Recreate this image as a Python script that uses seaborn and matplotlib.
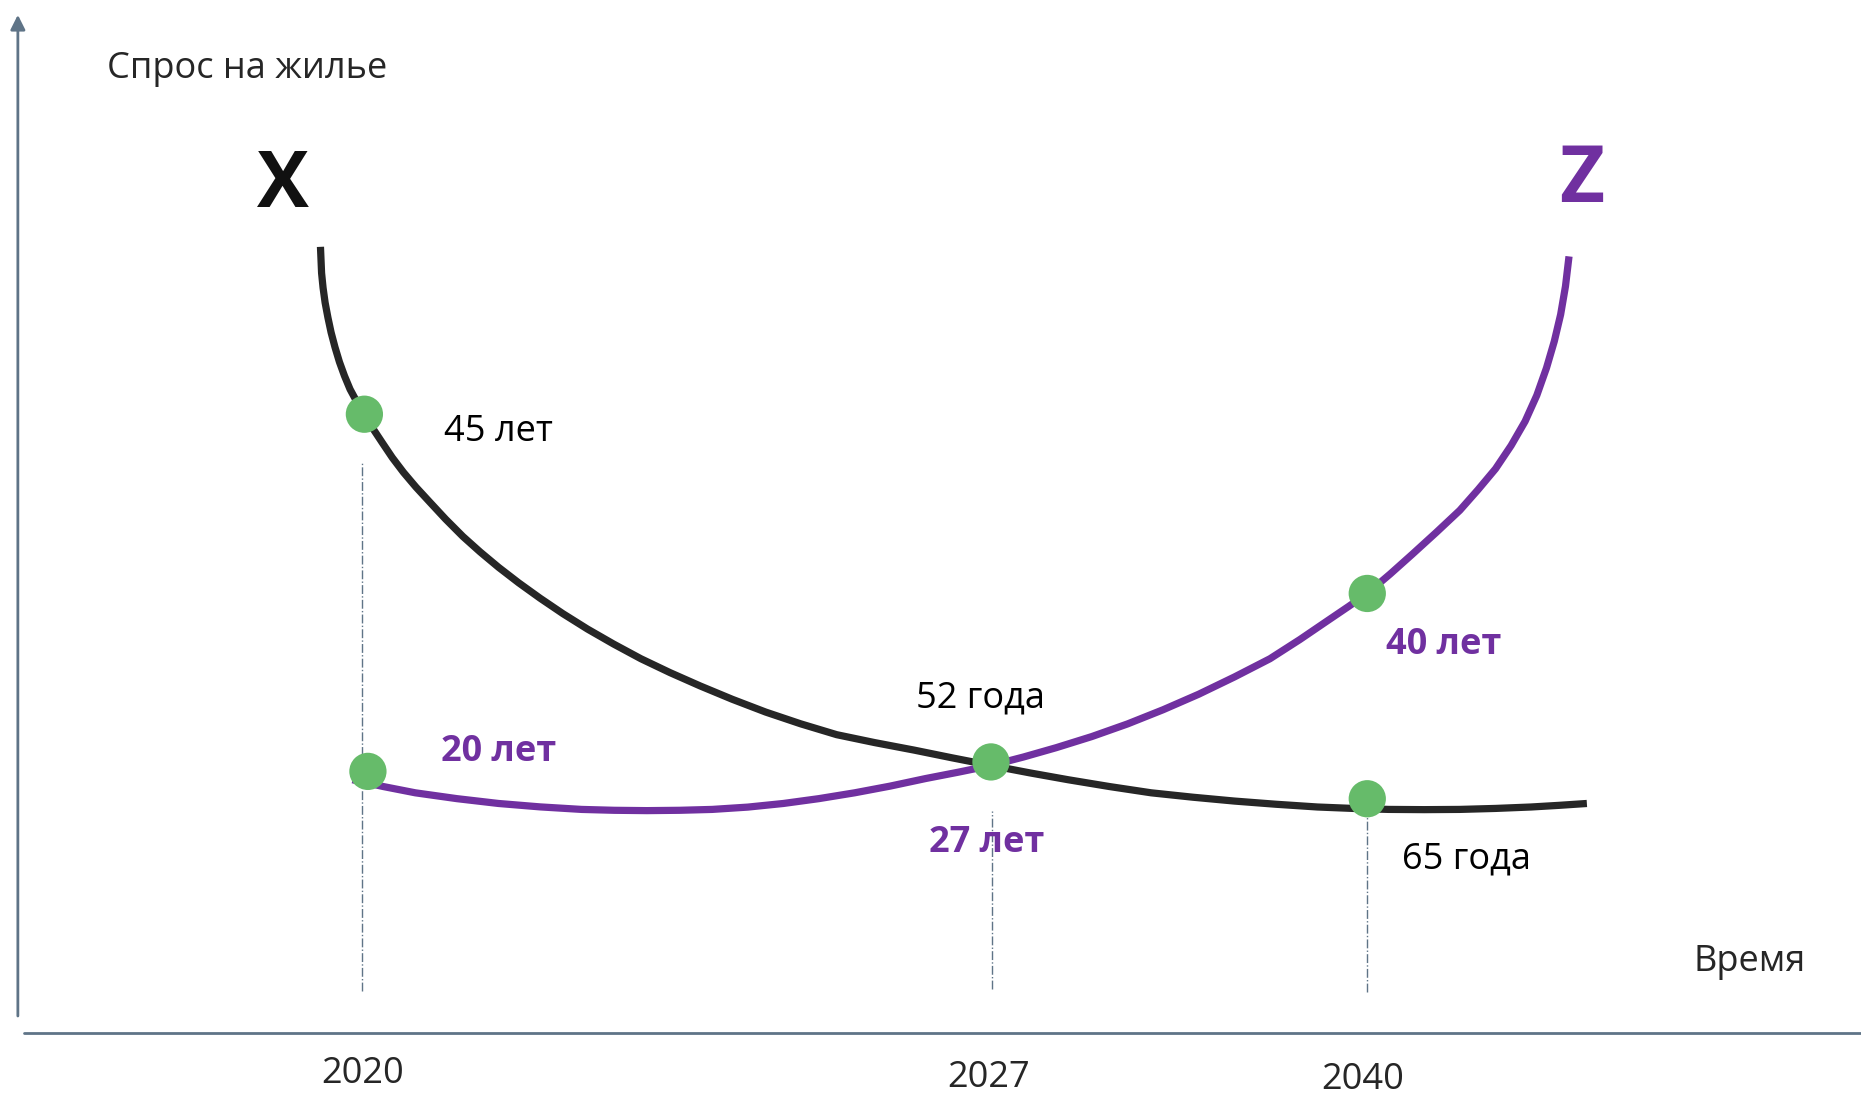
import matplotlib
matplotlib.use("Agg")
import matplotlib.pyplot as plt
import seaborn as sns
import pandas as pd

# Curve X (older generation) - time vs demand, arbitrary units 0..100
x_time = [17.22, 17.25, 17.28, 17.36, 17.47, 17.62, 17.79, 18.00, 18.24, 18.51, 18.81, 19.18, 19.58, 20.04,
          20.54, 21.08, 21.68, 22.35, 23.09, 23.94, 24.87, 25.80, 26.79, 27.87, 29.02, 30.25, 31.57, 32.97,
          34.44, 36.00, 37.63, 39.35, 41.14, 43.02, 44.96, 47.00, 49.11, 51.17, 53.25, 55.32, 57.40, 59.62,
          61.86, 64.10, 66.33, 68.56, 70.79, 72.70, 74.62, 76.53, 78.44, 80.36, 82.27, 83.77, 85.27]
x_demand = [77.54, 76.35, 75.16, 73.81, 72.46, 71.11, 69.76, 68.41, 67.06, 65.80, 64.58, 63.42, 62.31, 61.00,
            59.72, 58.36, 57.02, 55.68, 54.32, 52.77, 51.19, 49.78, 48.38, 46.97, 45.57, 44.16, 42.76, 41.40,
            40.06, 38.80, 37.58, 36.37, 35.21, 34.14, 33.15, 32.43, 31.75, 31.04, 30.35, 29.68, 29.05, 28.43,
            27.86, 27.46, 27.11, 26.82, 26.57, 26.44, 26.35, 26.33, 26.35, 26.44, 26.57, 26.72, 26.89]

# Curve Z (younger generation)
z_time = [18.94, 20.60, 22.32, 24.55, 26.79, 29.02, 31.25, 33.00, 34.76, 36.52, 38.27, 40.18, 42.09, 44.00,
          45.92, 47.83, 49.74, 51.50, 53.25, 55.00, 56.76, 58.67, 60.59, 62.50, 64.41, 66.33, 68.24, 69.85,
          71.43, 72.45, 73.47, 74.70, 75.89, 77.18, 78.44, 79.42, 80.36, 81.20, 81.95, 82.58, 83.10, 83.52,
          83.86, 84.12, 84.31]
z_demand = [29.05, 28.43, 27.86, 27.33, 26.89, 26.58, 26.35, 26.27, 26.24, 26.27, 26.35, 26.56, 26.89, 27.33,
            27.86, 28.47, 29.16, 29.74, 30.35, 31.12, 31.97, 32.98, 34.13, 35.42, 36.83, 38.40, 40.06, 41.81,
            43.63, 44.80, 46.00, 47.77, 49.57, 51.56, 53.56, 55.44, 57.34, 59.46, 61.66, 64.03, 66.52, 68.95,
            71.38, 73.95, 76.67]

# Marked points
dot_time = [19.58, 19.77, 53.25, 73.47, 73.47]
dot_demand = [62.31, 29.81, 30.67, 46.00, 27.32]

# Years on the time axis
year_labels = ["2020", "2027", "2040"]
year_pos = [19.5, 53.1, 73.2]
year_y = [2.27, 1.94, 1.73]
guide_x = [19.45, 53.32, 73.47]
guide_top = [57.88, 26.24, 26.24]
guide_bottom = [9.83, 10.04, 9.72]

# Age labels
age_text = ["45 лет", "20 лет", "52 года", "27 лет", "40 лет", "65 года"]
age_x = [26.8, 26.8, 52.7, 53.0, 77.6, 78.8]
age_y = [60.7, 31.6, 36.4, 23.3, 41.3, 21.8]
age_bold = [False, True, False, True, True, False]

BLACK = "#262626"
PURPLE = "#7030A0"
GREEN = "#66BB6A"
AXIS = "#5F7487"

sns.set_style("white")
plt.rcParams["font.family"] = ["Open Sans", "DejaVu Sans"]

fig = plt.figure(figsize=(18.61, 10.99), dpi=100)
ax = fig.add_axes([0, 0, 1, 1])
ax.set_xlim(0, 100)
ax.set_ylim(0, 100)
ax.axis("off")

df_x = pd.DataFrame({"t": x_time, "d": x_demand})
df_z = pd.DataFrame({"t": z_time, "d": z_demand})
sns.lineplot(data=df_x, x="t", y="d", ax=ax, color=BLACK, lw=5.2, sort=False, estimator=None,
             solid_joinstyle="round", solid_capstyle="butt")
sns.lineplot(data=df_z, x="t", y="d", ax=ax, color=PURPLE, lw=5.2, sort=False, estimator=None,
             solid_joinstyle="round", solid_capstyle="butt")

# dash-dot guides from the points down to the axis
for gx, gt, gb in zip(guide_x, guide_top, guide_bottom):
    ax.plot([gx, gx], [gb, gt], ls="-.", lw=1, color=AXIS, zorder=1)

sns.scatterplot(x=dot_time, y=dot_demand, ax=ax, color=GREEN, s=720, edgecolor="none", zorder=5)

# axes arrows
ax.annotate("", xy=(0.96, 98.9), xytext=(0.96, 7.3),
            arrowprops=dict(arrowstyle="-|>", color=AXIS, lw=2, mutation_scale=22))
ax.plot([1.28, 100], [6.05, 6.05], color=AXIS, lw=2)

ax.text(13.3, 93.7, "Спрос на жилье", fontsize=26, ha="center", va="center")
ax.text(94.0, 12.5, "Время", fontsize=26, ha="center", va="center")
ax.text(15.2, 83.0, "X", fontsize=56, fontweight="bold", color="#111111", ha="center", va="center")
ax.text(85.0, 83.5, "Z", fontsize=56, fontweight="bold", color=PURPLE, ha="center", va="center")

for txt, tx, ty, b in zip(age_text, age_x, age_y, age_bold):
    ax.text(tx, ty, txt, fontsize=26, ha="center", va="center",
            fontweight="bold" if b else "normal", color=PURPLE if b else "black")

for lab, pos, yy in zip(year_labels, year_pos, year_y):
    ax.text(pos, yy, lab, fontsize=26, ha="center", va="center")

plt.savefig("out.png", dpi=100)
